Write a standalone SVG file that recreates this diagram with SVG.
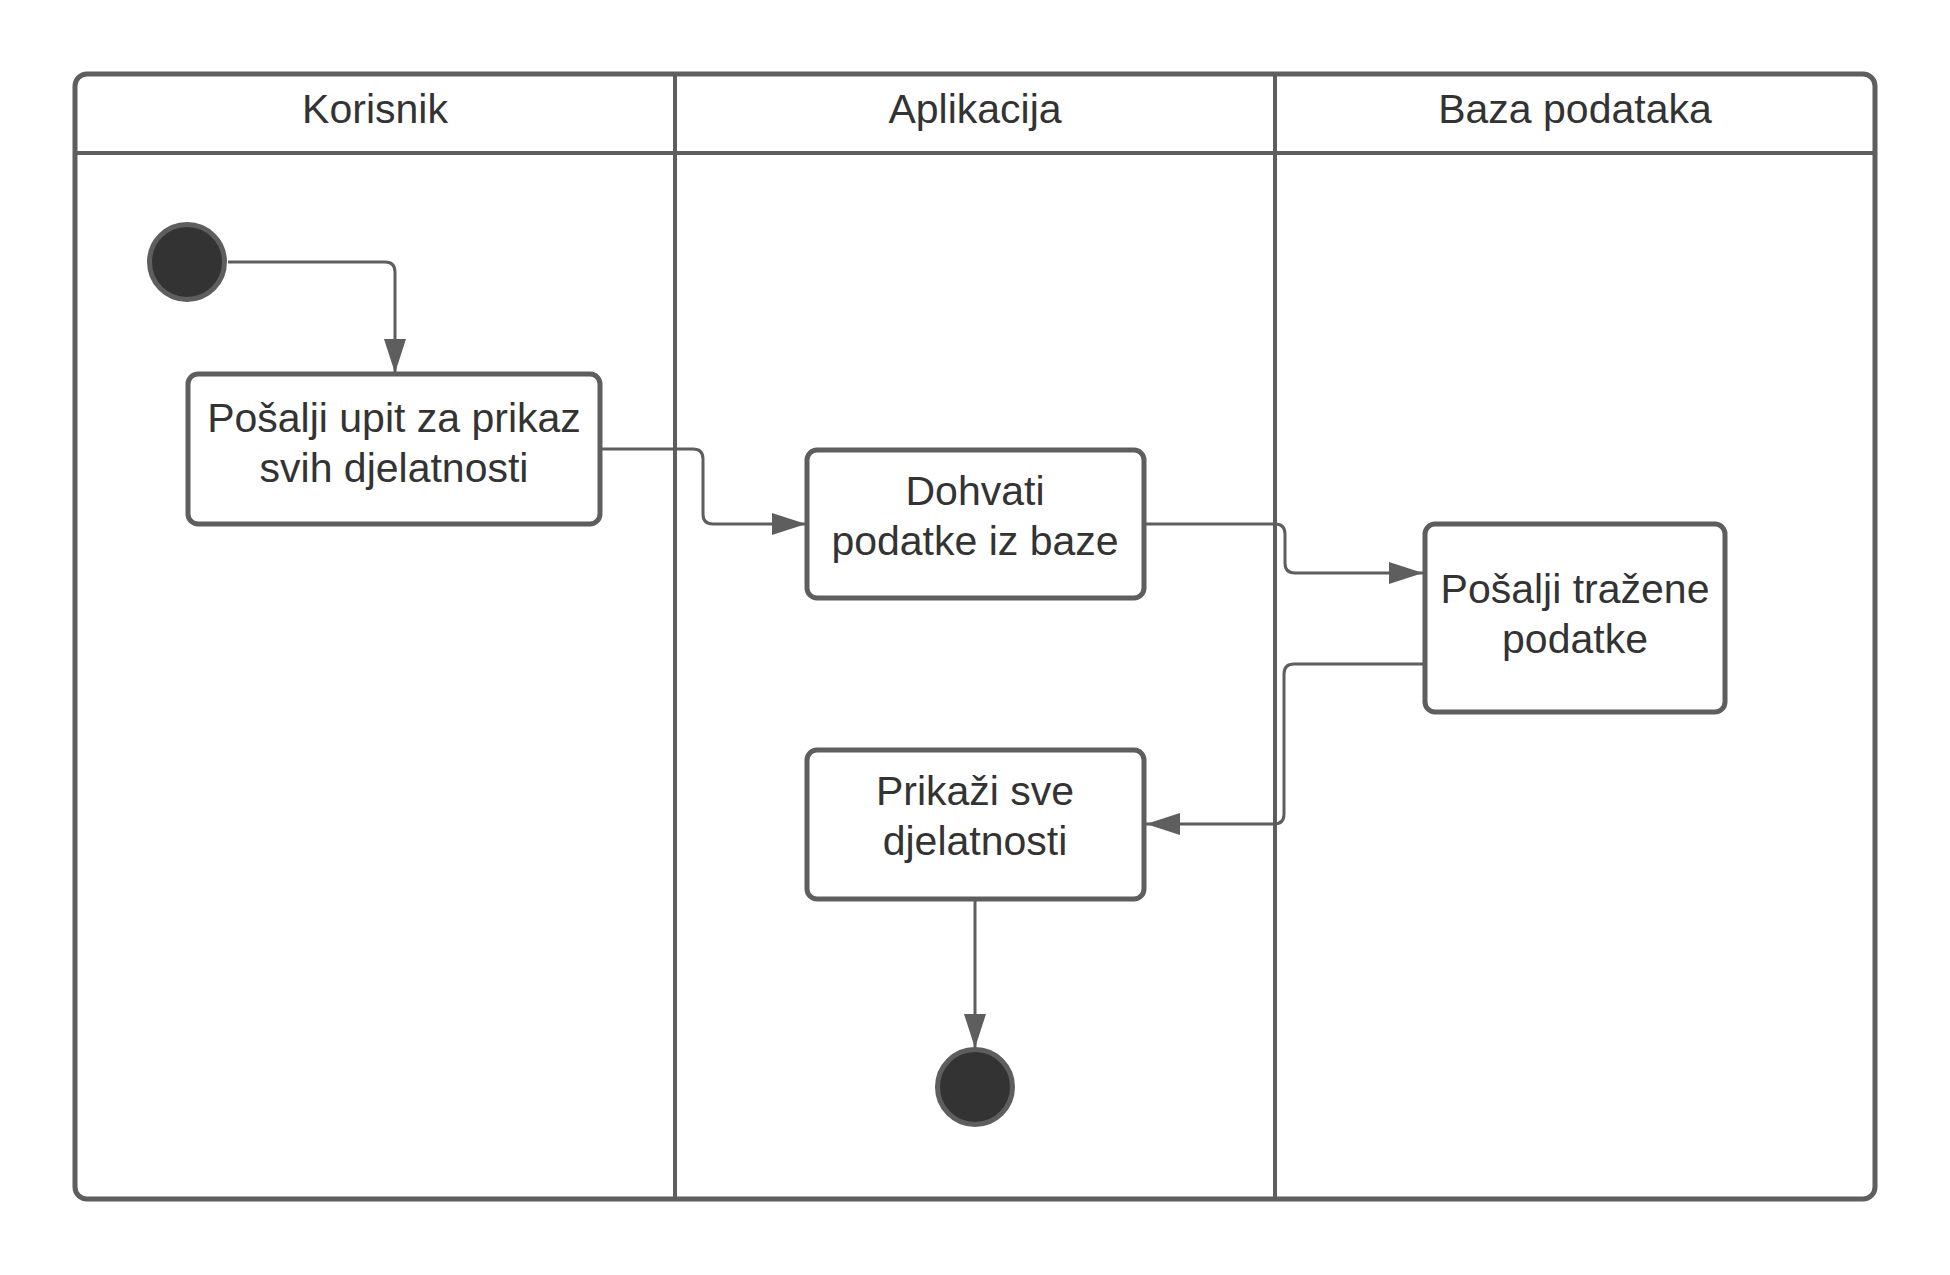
<svg xmlns="http://www.w3.org/2000/svg" width="1950" height="1275" viewBox="0 0 1950 1275">
<style>
.frame{fill:none;stroke:#5e5e5e;stroke-width:5}
.div{stroke:#5e5e5e;stroke-width:4}
.box{fill:#ffffff;stroke:#5e5e5e;stroke-width:5}
.dot{fill:#333333;stroke:#5e5e5e;stroke-width:5}
.conn{fill:none;stroke:#5e5e5e;stroke-width:3}
text{font-family:"Liberation Sans",Arial,sans-serif;font-size:41px;fill:#333333;text-anchor:middle}
</style>
<defs>
<marker id="arrow" viewBox="0 0 34 22" refX="34" refY="11" markerWidth="34" markerHeight="22" markerUnits="userSpaceOnUse" orient="auto">
<path d="M0,0 L34,11 L0,22 Z" fill="#5e5e5e"/>
</marker>
</defs>
<rect width="1950" height="1275" fill="#ffffff"/>
<g id="swimlanes">
<rect class="frame" x="75" y="74" width="1800" height="1125" rx="12"/>
<line class="div" x1="75" y1="153" x2="1875" y2="153"/>
<line class="div" x1="675" y1="74" x2="675" y2="1199"/>
<line class="div" x1="1275" y1="74" x2="1275" y2="1199"/>
<text x="375" y="123">Korisnik</text>
<text x="975" y="123">Aplikacija</text>
<text x="1575" y="123">Baza podataka</text>
</g>
<g id="connectors">
<path class="conn" d="M228,262 H385 Q395,262 395,272 V373" marker-end="url(#arrow)"/>
<path class="conn" d="M600,449 H693 Q703,449 703,459 V514 Q703,524 713,524 H806" marker-end="url(#arrow)"/>
<path class="conn" d="M1144,524 H1275 Q1285,524 1285,534 V563 Q1285,573 1295,573 H1423" marker-end="url(#arrow)"/>
<path class="conn" d="M1425,664 H1294 Q1284,664 1284,674 V814 Q1284,824 1274,824 H1146" marker-end="url(#arrow)"/>
<path class="conn" d="M975,899 V1048" marker-end="url(#arrow)"/>
</g>
<g id="start">
<circle class="dot" cx="187" cy="262" r="37.5"/>
</g>
<g id="box1">
<rect class="box" x="188" y="374" width="412" height="150" rx="10"/>
<text x="394" y="432">Pošalji upit za prikaz</text>
<text x="394" y="482">svih djelatnosti</text>
</g>
<g id="box2">
<rect class="box" x="807" y="450" width="337" height="148" rx="10"/>
<text x="975" y="505">Dohvati</text>
<text x="975" y="555">podatke iz baze</text>
</g>
<g id="box3">
<rect class="box" x="1425" y="524" width="300" height="188" rx="10"/>
<text x="1575" y="603">Pošalji tražene</text>
<text x="1575" y="653">podatke</text>
</g>
<g id="box4">
<rect class="box" x="807" y="750" width="337" height="149" rx="10"/>
<text x="975" y="805">Prikaži sve</text>
<text x="975" y="855">djelatnosti</text>
</g>
<g id="end">
<circle class="dot" cx="975" cy="1087" r="37.5"/>
</g>
</svg>
